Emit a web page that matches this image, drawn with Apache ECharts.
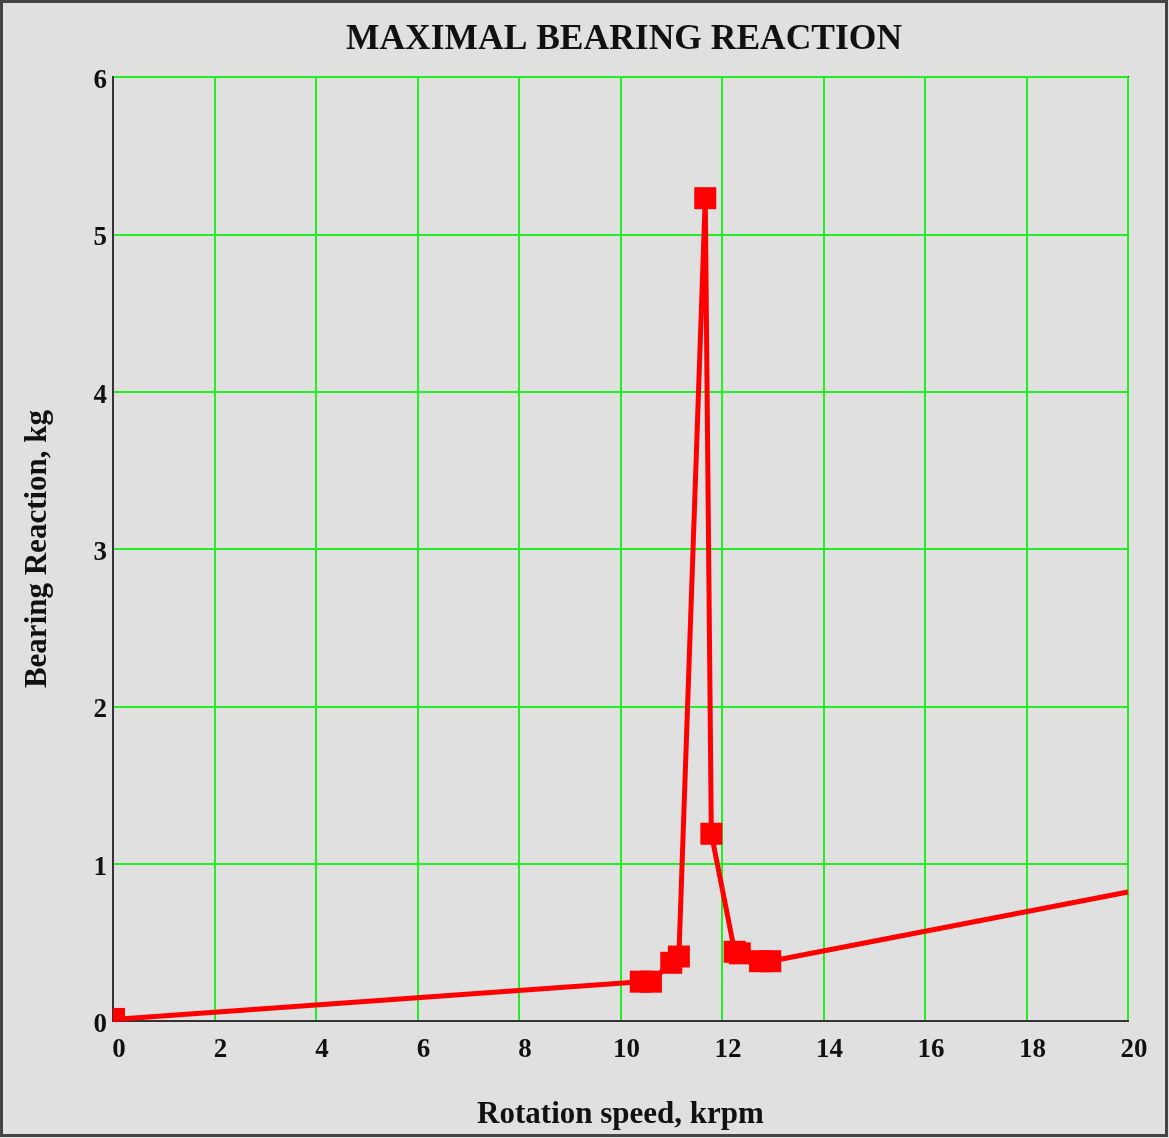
<!DOCTYPE html>
<html>
<head>
<meta charset="utf-8">
<title>Maximal bearing reaction</title>
<script src="https://cdn.jsdelivr.net/npm/echarts@6/dist/echarts.min.js"></script>
<style>
  html, body { margin: 0; padding: 0; background: #e0e0e0; }
  #chart { width: 1169px; height: 1138px; }
</style>
</head>
<body>
<div id="chart"></div>
<script>
// rotation speed, krpm
const speedKrpm = [0, 10.4, 10.6, 11.0, 11.15, 11.67, 11.79, 12.25, 12.35, 12.75, 12.95, 20]
// max bearing reaction, kg
const reactionKg = [0.01, 0.25, 0.25, 0.37, 0.41, 5.23, 1.19, 0.44, 0.43, 0.38, 0.38, 0.82]
// which points carry a square marker
const hasMarker = [true, true, true, true, true, true, true, true, true, true, true, false]

const xTicks = { min: 0, max: 20, interval: 2 }
const yTicks = { min: 0, max: 6, interval: 1 }

const serif = '"Liberation Serif", "DejaVu Serif", serif'

const seriesData = speedKrpm.map((x, i) => {
  const item = { value: [x, reactionKg[i]] }
  if (!hasMarker[i]) {
    item.symbol = 'none'
  } else if (i === 0) {
    // first marker sits on the corner and is cut by the plot frame
    item.symbolSize = [12, 13]
    item.symbolOffset = [6, -5]
  }
  return item
})

const chart = echarts.init(document.getElementById('chart'))

chart.setOption({
  backgroundColor: '#e0e0e0',
  animation: false,
  title: {
    text: 'MAXIMAL BEARING REACTION',
    left: 619,
    top: 17,
    textAlign: 'center',
    textStyle: {
      fontFamily: serif,
      fontWeight: 'bold',
      fontSize: 35.5,
      color: '#111'
    }
  },
  graphic: [
    {
      type: 'rect',
      shape: { x: 1.5, y: 1.5, width: 1165, height: 1134 },
      style: { fill: null, stroke: '#444', lineWidth: 3 },
      silent: true
    }
  ],
  grid: {
    left: 113,
    top: 77,
    right: 41,
    bottom: 117,
    show: true,
    backgroundColor: 'transparent',
    borderColor: '#333',
    borderWidth: 2
  },
  xAxis: {
    type: 'value',
    min: xTicks.min,
    max: xTicks.max,
    interval: xTicks.interval,
    name: 'Rotation speed, krpm',
    nameLocation: 'middle',
    nameGap: 78,
    nameTextStyle: {
      fontFamily: serif,
      fontWeight: 'bold',
      fontSize: 31,
      color: '#111'
    },
    axisLine: { show: true, lineStyle: { color: '#333', width: 2 } },
    axisTick: { show: false },
    axisLabel: {
      margin: 16,
      padding: [0, 0, 0, 12],
      fontFamily: serif,
      fontWeight: 'bold',
      fontSize: 27,
      color: '#111'
    },
    splitLine: { show: true, lineStyle: { color: '#22ee22', width: 2 } }
  },
  yAxis: {
    type: 'value',
    min: yTicks.min,
    max: yTicks.max,
    interval: yTicks.interval,
    name: 'Bearing Reaction, kg',
    nameLocation: 'middle',
    nameGap: 60,
    nameTextStyle: {
      fontFamily: serif,
      fontWeight: 'bold',
      fontSize: 31,
      color: '#111'
    },
    axisLine: { show: true, lineStyle: { color: '#333', width: 2 } },
    axisTick: { show: false },
    axisLabel: {
      margin: 6,
      verticalAlign: 'top',
      lineHeight: 8,
      fontFamily: serif,
      fontWeight: 'bold',
      fontSize: 27,
      color: '#111'
    },
    splitLine: { show: true, lineStyle: { color: '#22ee22', width: 2 } }
  },
  series: [
    {
      type: 'line',
      data: seriesData,
      symbol: 'rect',
      symbolSize: 22,
      showAllSymbol: true,
      clip: false,
      lineStyle: { color: '#ff0000', width: 5 },
      itemStyle: { color: '#ff0000' }
    }
  ]
})
</script>
</body>
</html>
